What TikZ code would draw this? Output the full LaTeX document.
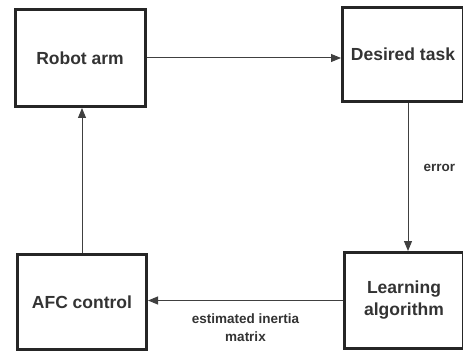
\documentclass[tikz,border=0pt]{standalone}
\usepackage{fontspec}
\setmainfont{Liberation Sans}
\usetikzlibrary{arrows.meta,positioning}
\tikzset{
    block/.style={
           rectangle,
           draw=black!85,
           line width=3pt,
           text=black!80,
           font=\fontsize{17.5}{22}\selectfont\bfseries,
           align=center,
           inner sep=2pt,
           },
}

\begin{document}
\begin{tikzpicture}[
  x=1pt,y=1pt,
  >={Triangle[length=10pt,width=8pt]},
  link/.style={->,draw=black!75,line width=1pt},
  lbl/.style={text=black!80,font=\fontsize{13.5}{18}\selectfont\bfseries,inner sep=0pt,align=center}]
\useasboundingbox (0,0) rectangle (463,351);
\node[block,minimum width=130pt,minimum height=97pt] (robot) at (80,293) {Robot arm};
\node[block,minimum width=121pt,minimum height=94pt,right=194.5pt of robot,yshift=3.5pt] (task) {Desired task};
\node[block,minimum width=119pt,minimum height=96pt,below=148pt of task,xshift=1pt] (learning) {Learning\\algorithm};
\node[block,minimum width=129pt,minimum height=95pt,below=145pt of robot,xshift=2pt] (afc) {AFC control};

\draw[link] (robot.east) -- (robot.east -| task.west);
\draw[link] ([xshift=5pt]task.south) -- ([xshift=5pt]task.south |- learning.north)
      node[lbl,pos=0.44,right=15pt] (err) {error};
\draw[link] (learning.west) -- (learning.west -| afc.east)
      node[lbl,pos=0.5,below=13pt] (inertia) {estimated inertia\\matrix};
\draw[link] (afc.north) -- (afc.north |- robot.south);
\end{tikzpicture}
\end{document}
